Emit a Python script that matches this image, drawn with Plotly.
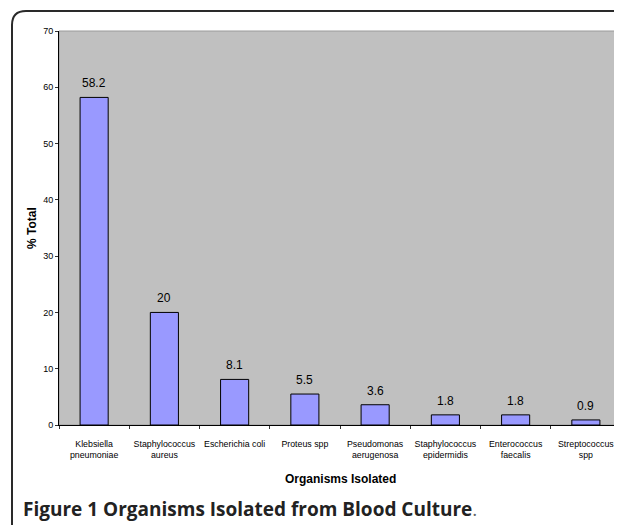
import plotly.graph_objects as go

categories = ["Klebsiella<br>pneumoniae", "Staphylococcus<br>aureus", "Escherichia coli",
              "Proteus spp", "Pseudomonas<br>aerugenosa", "Staphylococcus<br>epidermidis",
              "Enterococcus<br>faecalis", "Streptococcus<br>spp"]
values = [58.2, 20, 8.1, 5.5, 3.6, 1.8, 1.8, 0.9]
labels = ["58.2", "20", "8.1", "5.5", "3.6", "1.8", "1.8", "0.9"]
y_ticks = [0, 10, 20, 30, 40, 50, 60, 70]

# page body has an 8px margin, so the figure is 8px smaller than the window
OFF = 8
W, H = 622 - OFF, 525 - OFF
ML, MR, MT, MB = 59 - OFF, 1, 31 - OFF, 100
PW, PH = W - ML - MR, H - MT - MB

def fx(x):  # window pixel x -> paper
    return (x - OFF - ML) / PW

def fy(y):  # window pixel y -> paper
    return (H - MB - (y - OFF)) / PH

fig = go.Figure()
fig.add_trace(go.Bar(
    x=categories, y=values,
    marker=dict(color="#9999FF", line=dict(color="black", width=1)),
    cliponaxis=False, width=0.4, hoverinfo="x+y",
))

for c, v, t in zip(categories, values, labels):
    fig.add_annotation(x=c, y=v, text=t, showarrow=False, yanchor="middle", yshift=14,
                       font=dict(family="Liberation Sans, Arial", size=12, color="black"))

# outer card frame
r = 14
x0, y0 = 12, 11
path = (f"M {fx(x0)} {fy(540)} L {fx(x0)} {fy(y0 + r)} "
        f"Q {fx(x0)} {fy(y0)} {fx(x0 + r)} {fy(y0)} L {fx(640)} {fy(y0)}")
fig.add_shape(type="path", path=path, xref="paper", yref="paper",
              line=dict(color="#2a2a2a", width=2))
# plot area border
fig.add_shape(type="rect", xref="paper", yref="paper", x0=0, y0=0, x1=1, y1=1,
              line=dict(color="#9a9a9a", width=1), layer="below")

fig.add_annotation(text="<b>Organisms Isolated</b>", xref="paper", yref="paper",
                   x=0.5, y=fy(479), xanchor="center", yanchor="middle", showarrow=False,
                   font=dict(family="Liberation Sans, Arial", size=12, color="black"))
fig.add_annotation(text="<b>% Total</b>", xref="paper", yref="paper", textangle=-90,
                   x=fx(32), y=0.5, xanchor="center", yanchor="middle", showarrow=False,
                   font=dict(family="Liberation Sans, Arial", size=12, color="black"))

fig.add_annotation(text="<b>Figure 1 Organisms Isolated from Blood Culture</b><span style='color:#666'>.</span>",
                   xref="paper", yref="paper", x=fx(21), y=fy(509), xanchor="left", yanchor="middle",
                   showarrow=False, font=dict(family="Open Sans", size=19, color="#222222"))

fig.update_layout(
    width=W, height=H, margin=dict(l=ML, r=MR, t=MT, b=MB, autoexpand=False),
    paper_bgcolor="white", plot_bgcolor="#C0C0C0",
    showlegend=False, bargap=0.6,
    font=dict(family="Liberation Sans, Arial", color="black"),
    xaxis=dict(tickson="boundaries", ticks="outside", ticklen=3, tickcolor="#333",
               showline=True, linecolor="black", linewidth=1, tickangle=0, automargin=False,
               tickfont=dict(size=8.8), showgrid=False, ticklabelstandoff=10),
    yaxis=dict(range=[0, 70], tickvals=y_ticks, ticks="outside", ticklen=3, tickcolor="#333",
               showline=True, linecolor="black", linewidth=1, showgrid=False, zeroline=False,
               tickfont=dict(size=9), automargin=False),
)

fig.write_html("out.html")
